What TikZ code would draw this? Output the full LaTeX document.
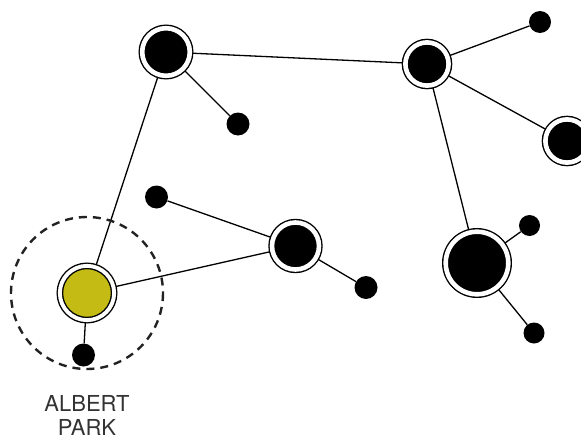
\documentclass[tikz,border=0pt]{standalone}
\usepackage{fontspec}
\setmainfont{TeX Gyre Heros}
\usepackage{xcolor}
\usepackage{tikz}
\usetikzlibrary{backgrounds}
\definecolor{parkyellow}{RGB}{196, 188, 20}
\definecolor{labelgray}{RGB}{51, 51, 51}
\definecolor{zonegray}{RGB}{34, 34, 34}

\begin{document}
\begin{tikzpicture}[
            x=1pt, y=-1pt,
            hub/.style={circle, inner sep=0pt, fill=black, draw=black, line width=1.4pt, double=white, double distance=4.6pt, minimum size=#1},
            leaf/.style={circle, inner sep=0pt, fill=black, minimum size=#1},
            link/.style={line width=1.3pt},
            zone/.style={draw=zonegray, line width=2.4pt, dash pattern=on 8pt off 6pt}
        ]
            \useasboundingbox (0,0) rectangle (581,439);

            % hubs
            \node (north) [hub=47.6pt] at (166,52) {};
            \node (junction) [hub=43.2pt] at (427,64) {};
            \node (east) [hub=43.2pt] at (567,141) {};
            \node (middle) [hub=47pt] at (295.5,246) {};
            \node (big) [hub=62.6pt] at (477,263) {};
            \node (park) [hub=54.3pt, fill=parkyellow, double distance=3.9pt] at (87,293) {};

            % leaves
            \node (northleaf) [leaf=23pt] at (238,124) {};
            \node (topleaf) [leaf=22pt] at (540,22) {};
            \node (westleaf) [leaf=23pt] at (156.5,197) {};
            \node (southleaf) [leaf=23pt] at (366,287.5) {};
            \node (bigupper) [leaf=21pt] at (529.5,225.5) {};
            \node (biglower) [leaf=21pt] at (534,333) {};
            \node (parkleaf) [leaf=23pt] at (83.5,355) {};

            % walking zone
            \draw[zone] (park.center) circle[radius=76];

            \node (name) [anchor=base, align=center, text=labelgray, font=\fontsize{22}{23.5}\selectfont] at (87,435.3) {ALBERT\\PARK};

            \begin{scope}[on background layer]
                \draw[link] (north) -- (junction);
                \draw[link] (north) -- (park);
                \draw[link] (north) -- (northleaf);
                \draw[link] (junction) -- (topleaf);
                \draw[link] (junction) -- (east);
                \draw[link] (junction) -- (big);
                \draw[link] (middle) -- (park);
                \draw[link] (middle) -- (westleaf);
                \draw[link] (middle) -- (southleaf);
                \draw[link] (big) -- (bigupper);
                \draw[link] (big) -- (biglower);
                \draw[link] (park) -- (parkleaf);
            \end{scope}
        \end{tikzpicture}
\end{document}
